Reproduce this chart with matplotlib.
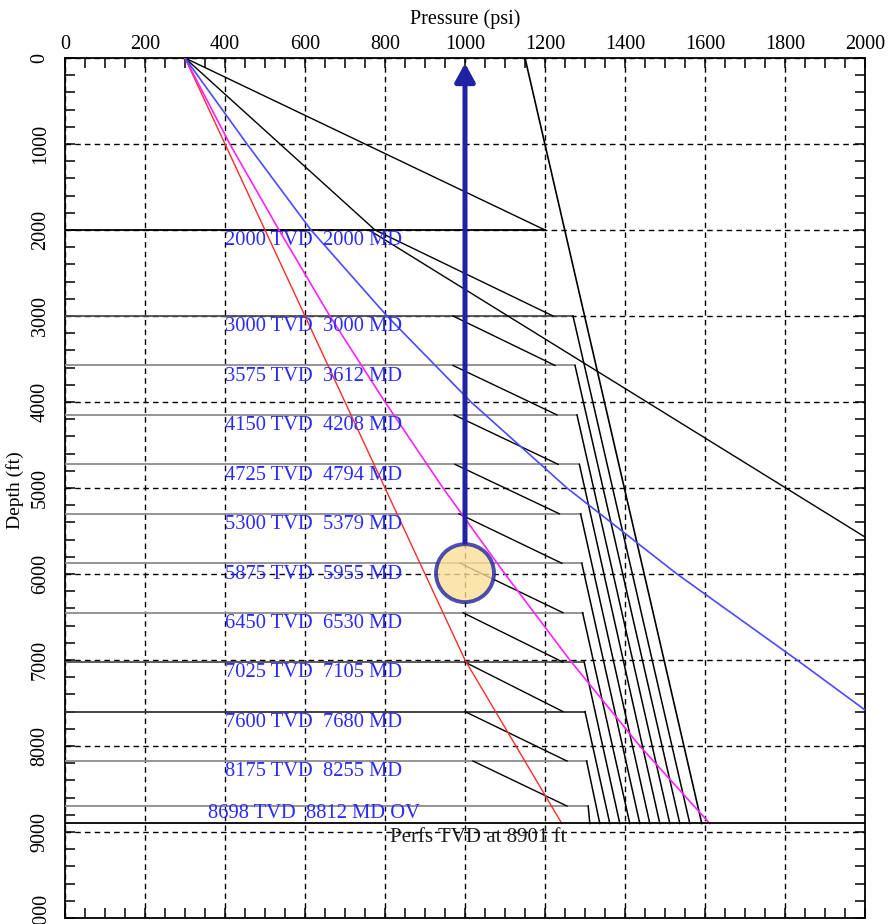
import numpy as np
import matplotlib
matplotlib.use("Agg")
import matplotlib.pyplot as plt
from matplotlib.patches import Ellipse
from matplotlib.ticker import MultipleLocator

plt.rcParams['font.family'] = ['Liberation Serif', 'DejaVu Serif']

# valve data
valve_tvd = [2000, 3000, 3575, 4150, 4725, 5300, 5875, 6450, 7025, 7600, 8175, 8698]
valve_md = [2000, 3000, 3612, 4208, 4794, 5379, 5955, 6530, 7105, 7680, 8255, 8812]
perf_tvd = 8901

# end of each horizontal valve line (psi)
hline_end = [1200, 1270, 1275, 1280, 1286, 1289, 1292, 1294, 1298, 1300, 1304, 1308]
hline_col = ['black', '0.3', '0.55', '0.55', '0.55', '0.55', '0.55', '0.55', '0.3', '0.2', '0.55', '0.55']
# pressure at perfs for the lines dropping from each valve (3000 ft and deeper)
drop_bottom = [1562, 1537, 1512, 1487, 1462, 1437, 1412, 1387, 1362, 1337, 1312]
# transfer lines from valve i to valve i+1 (3000 ft and deeper)
transfer_start = [970, 970, 973, 975, 985, 988, 995, 1000, 1000, 1020]
transfer_end = [1225, 1230, 1233, 1236, 1242, 1245, 1245, 1245, 1255, 1255]

# gradient curves
red_depth = [0, 7000, 8901]
red_psi = [300, 1000, 1242]
mag_depth = [0, 1000, 2000, 3000, 4000, 5000, 6000, 7000, 8000, 8901]
mag_psi = [300, 412, 535, 662, 800, 945, 1100, 1262, 1437, 1612]
blue_depth = [0, 1000, 2000, 3000, 4000, 5000, 6000, 7000, 7581]
blue_psi = [300, 455, 615, 805, 1015, 1255, 1530, 1830, 2000]

# casing pressure line
casing_depth = [0, 8901]
casing_psi = [1150, 1592]

# unloading lines from surface
first_depth = [0, 2000]
first_psi = [300, 1200]
second_depth = [0, 2000]
second_psi = [300, 775]
top_transfer_depth = [2000, 3000]
top_transfer_psi = [775, 1220]
long_depth = [2000, 5570]
long_psi = [760, 2000]

fig = plt.figure(figsize=(8.89, 9.24), dpi=100)
ax = fig.add_axes([65/889, 1-918/924, 800/889, 860/924])

ax.set_xlim(0, 2000)
ax.set_ylim(10000, 0)
ax.xaxis.set_major_locator(MultipleLocator(200))
ax.xaxis.set_minor_locator(MultipleLocator(50))
ax.yaxis.set_major_locator(MultipleLocator(1000))
ax.yaxis.set_minor_locator(MultipleLocator(200))
ax.grid(True, which='major', color='black', linestyle=(0, (4, 3)), linewidth=1.0, zorder=1)
ax.set_axisbelow(True)
ax.tick_params(which='both', direction='in', top=True, bottom=True, left=True, right=True,
               labeltop=True, labelbottom=False, labelsize=14.5, width=1.1)
ax.tick_params(which='major', length=7)
ax.tick_params(which='minor', length=7)
ax.tick_params(axis='x', pad=3)
ax.tick_params(axis='y', pad=11)
for lab in ax.get_yticklabels():
    lab.set_rotation(90)
    lab.set_va('center')
for sp in ax.spines.values():
    sp.set_linewidth(1.3)

ax.xaxis.set_label_position('top')
ax.set_xlabel('Pressure (psi)', fontsize=14.5, labelpad=8)
fig.text(24/889, 1-490/924, 'Depth (ft)', rotation=90, fontsize=14, ha='right', va='center')

# horizontal valve lines and labels
for i, d in enumerate(valve_tvd):
    ax.plot([0, hline_end[i]], [d, d], color=hline_col[i], lw=1.3, zorder=3)
    if i < len(valve_tvd) - 1:
        ax.text(400, d + 15, f"{d} TVD  {valve_md[i]} MD", color='#2a2aff', fontsize=14.8,
                va='top', ha='left', zorder=4)
    else:
        ax.text(357, d - 20, f"{d} TVD  {valve_md[i]} MD OV", color='#2a2aff', fontsize=14.8,
                va='top', ha='left', zorder=4)

# lines dropping from valves to perfs
for i, d in enumerate(valve_tvd[1:]):
    ax.plot([hline_end[i + 1], drop_bottom[i]], [d, perf_tvd], color='black', lw=1.1, zorder=3)

# transfer lines
for i in range(len(transfer_start)):
    ax.plot([transfer_start[i], transfer_end[i]], [valve_tvd[i + 1], valve_tvd[i + 2]],
            color='black', lw=1.0, zorder=3)

ax.plot(first_psi, first_depth, color='black', lw=1.0, zorder=3)
ax.plot(second_psi, second_depth, color='black', lw=1.0, zorder=3)
ax.plot(top_transfer_psi, top_transfer_depth, color='black', lw=1.0, zorder=3)
ax.plot(long_psi, long_depth, color='black', lw=1.0, zorder=3)
ax.plot(casing_psi, casing_depth, color='black', lw=1.2, zorder=3)

ax.plot(red_psi, red_depth, color='#ff2a2a', lw=1.0, zorder=3)
ax.plot(mag_psi, mag_depth, color='#ff22ff', lw=1.2, zorder=3)
ax.plot(blue_psi, blue_depth, color='#4a4aff', lw=1.2, zorder=3)

# perfs line
ax.plot([0, 2000], [perf_tvd, perf_tvd], color='black', lw=1.3, zorder=3)
ax.text(812, perf_tvd + 55, 'Perfs TVD at 8901 ft', color='#1a1a1a', fontsize=15,
        va='top', ha='left', zorder=4)

# gas injection arrow and marker
navy = '#1f23a3'
ax.annotate('', xy=(1000, 60), xytext=(1000, 5650),
            arrowprops=dict(arrowstyle='-|>,head_length=0.55,head_width=0.3', mutation_scale=20,
                            lw=3.6, color=navy, shrinkA=0, shrinkB=0), zorder=5)
ax.add_patch(Ellipse((1000, 5990), 2 * 29 / 0.4, 2 * 29 / 0.086, facecolor='#fcdf95', alpha=0.8,
                     edgecolor=navy, lw=2.8, zorder=6))

fig.savefig('out.png', dpi=100)
